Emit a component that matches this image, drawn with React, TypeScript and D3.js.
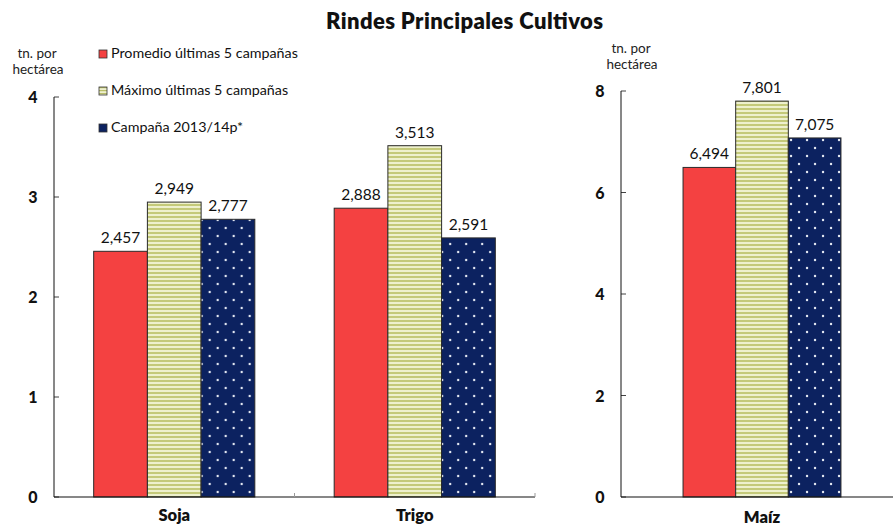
import React from "react";
import * as d3 from "d3";

const W = 893;
const H = 527;

const seriesNames = [
  "Promedio últimas 5 campañas",
  "Máximo últimas 5 campañas",
  "Campaña 2013/14p*",
];
const leftCategories = ["Soja", "Trigo"];
const rightCategories = ["Maíz"];
const promedio = [2.457, 2.888, 6.494];
const maximo = [2.949, 3.513, 7.801];
const campana = [2.777, 2.591, 7.075];
const leftTicks = [0, 1, 2, 3, 4];
const rightTicks = [0, 2, 4, 6, 8];

const FONT = "Lato, 'Open Sans', sans-serif";
const fills = ["#f44141", "url(#stripes)", "url(#dots)"];
const legendFills = ["#f44141", "url(#stripesSmall)", "#0c2260"];

const fmt = (v: number) => d3.format(",.3f")(v).replace(".", ",");

function Panel({
  cats,
  offset,
  xRange,
  padIn,
  padOut,
  yMax,
  yTop,
  ticks,
  axisEnd,
  catY,
}: {
  cats: string[];
  offset: number;
  xRange: [number, number];
  padIn: number;
  padOut: number;
  yMax: number;
  yTop: number;
  ticks: number[];
  axisEnd: number;
  catY: number;
}) {
  const y = d3.scaleLinear().domain([0, yMax]).range([497, yTop]);
  const x = d3
    .scaleBand<string>()
    .domain(cats)
    .range(xRange)
    .paddingInner(padIn)
    .paddingOuter(padOut);
  const xs = d3
    .scaleBand<string>()
    .domain(seriesNames)
    .range([0, x.bandwidth()]);
  const series = [promedio, maximo, campana];
  const x0 = xRange[0];
  return (
    <g>
      {cats.map((c, ci) => (
        <g key={c} transform={`translate(${x(c)},0)`}>
          {series.map((s, si) => {
            const v = s[ci + offset];
            const bx = xs(seriesNames[si])!;
            return (
              <g key={si}>
                <rect
                  x={bx}
                  y={y(v)}
                  width={xs.bandwidth()}
                  height={y(0) - y(v)}
                  fill={fills[si]}
                  stroke="#2a2a2a"
                  strokeWidth={1}
                />
                <text
                  x={bx + xs.bandwidth() / 2}
                  y={y(v) - 8}
                  textAnchor="middle"
                  fontSize={15.5}
                  fontFamily={FONT}
                  fill="#111"
                >
                  {fmt(v)}
                </text>
              </g>
            );
          })}
          <text
            x={x.bandwidth() / 2}
            y={catY}
            textAnchor="middle"
            fontSize={16.5}
            fontWeight={800}
            fontFamily={FONT}
            fill="#111"
          >
            {c}
          </text>
        </g>
      ))}
      <line x1={x0} x2={x0} y1={y(yMax)} y2={y(0)} stroke="#111" strokeWidth={1} />
      <line x1={x0} x2={axisEnd} y1={y(0)} y2={y(0)} stroke="#111" strokeWidth={1.2} />
      {ticks.map((t) => (
        <g key={t}>
          <line x1={x0} x2={x0 + 5} y1={y(t)} y2={y(t)} stroke="#111" strokeWidth={0.8} />
          <text
            x={x0 - 21}
            y={y(t) + 6}
            textAnchor="middle"
            fontSize={16}
            fontWeight={900}
            fontFamily={FONT}
            fill="#111"
          >
            {t}
          </text>
        </g>
      ))}
      {cats.map((c) => {
        const bx = (x(c) as number) + x.bandwidth() + (x.step() * padIn) / 2;
        return bx < axisEnd + 1 ? (
          <line key={c} x1={bx} x2={bx} y1={y(0)} y2={y(0) - 4} stroke="#999" strokeWidth={1} />
        ) : null;
      })}
    </g>
  );
}

export default function App() {
  return (
    <svg width={W} height={H} style={{ position: "absolute", left: 0, top: 0 }}>
      <defs>
        <pattern id="stripes" patternUnits="userSpaceOnUse" width={8} height={4}>
          <rect width={8} height={4} fill="#eef0cd" />
          <rect width={8} height={2} fill="#c4c979" />
        </pattern>
        <pattern id="stripesSmall" patternUnits="userSpaceOnUse" width={8} height={3}>
          <rect width={8} height={3} fill="#eef0cd" />
          <rect width={8} height={1.2} fill="#b9be6a" />
        </pattern>
        <pattern id="dots" patternUnits="userSpaceOnUse" width={16} height={16}>
          <rect width={16} height={16} fill="#0c2260" />
          <circle cx={4} cy={4} r={1.2} fill="#e8ecf5" />
          <circle cx={12} cy={12} r={1.2} fill="#e8ecf5" />
        </pattern>
      </defs>
      <rect width={W} height={H} fill="#fff" />
      <text
        x={326}
        y={29}
        fontSize={22}
        fontWeight={800}
        fontFamily={FONT}
        fill="#111"
        textLength={277}
        lengthAdjust="spacing"
      >
        Rindes Principales Cultivos
      </text>
      <text fontSize={13.5} fontFamily={FONT} fill="#222" textAnchor="middle">
        <tspan x={37} y={58}>tn. por</tspan>
        <tspan x={38} y={74}>hectárea</tspan>
      </text>
      <text fontSize={13.5} fontFamily={FONT} fill="#222" textAnchor="middle">
        <tspan x={631} y={53}>tn.  por</tspan>
        <tspan x={632} y={69}>hectárea</tspan>
      </text>
      {seriesNames.map((n, i) => (
        <g key={n}>
          <rect
            x={99}
            y={50 + i * 37}
            width={8}
            height={8}
            fill={legendFills[i]}
            stroke="#333"
            strokeWidth={0.8}
          />
          <text x={111} y={58 + i * 37} fontSize={14.3} fontFamily={FONT} fill="#111">
            {n}
          </text>
        </g>
      ))}
      <Panel
        cats={leftCategories}
        offset={0}
        xRange={[54, 535]}
        padIn={0.33}
        padOut={0.165}
        yMax={4}
        yTop={97}
        ticks={leftTicks}
        axisEnd={535}
        catY={521}
      />
      <Panel
        cats={rightCategories}
        offset={2}
        xRange={[621, 903]}
        padIn={0.44}
        padOut={0.22}
        yMax={8}
        yTop={91}
        ticks={rightTicks}
        axisEnd={893}
        catY={523}
      />
    </svg>
  );
}
